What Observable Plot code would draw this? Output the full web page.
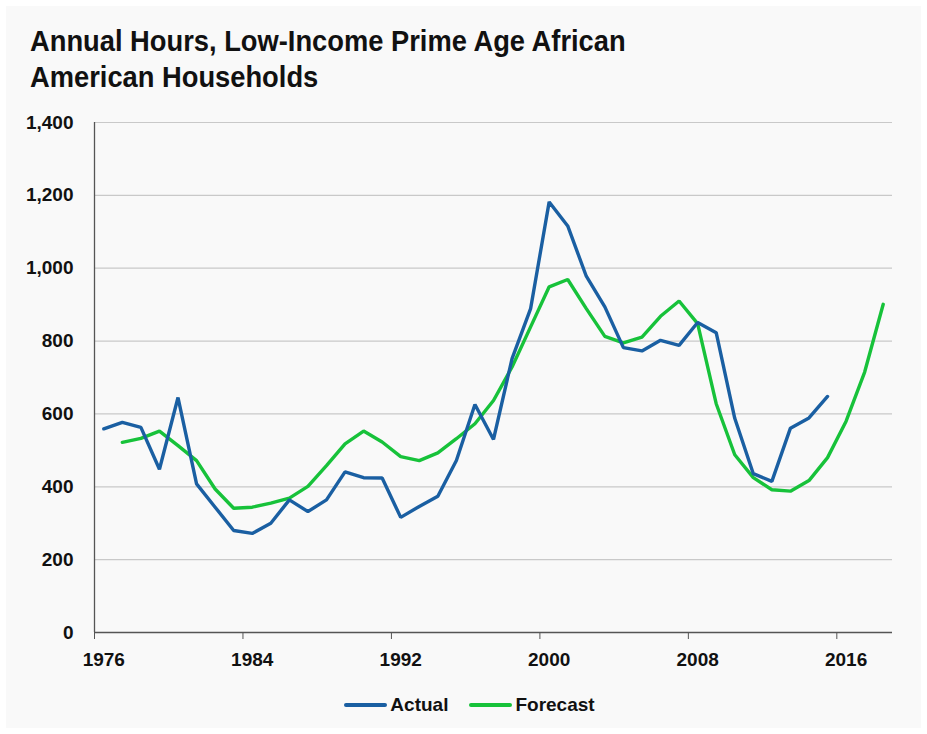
<!DOCTYPE html>
<html>
<head>
<meta charset="utf-8">
<script src="https://cdn.jsdelivr.net/npm/d3@7"></script>
<script src="https://cdn.jsdelivr.net/npm/@observablehq/plot@0.6"></script>
<style>
  html, body { margin: 0; padding: 0; background: #ffffff; }
  #page { position: relative; width: 927px; height: 734px; overflow: hidden; }
  #panel { position: absolute; left: 6px; top: 6px; width: 915px; height: 722px; background: #f9f9f9; }
  #title { position: absolute; left: 30px; top: 23px; font-family: "Liberation Sans", sans-serif; font-weight: bold; font-size: 30px; line-height: 36px; color: #111; transform: scaleX(0.91); transform-origin: left top; white-space: nowrap; }
  #chart { position: absolute; left: 0; top: 100px; }
  #chart svg text { font-size: 19px !important; font-weight: bold; font-family: "Liberation Sans", sans-serif; }
  #legend { position: absolute; left: 6px; width: 927px; top: 694px; display: flex; justify-content: center; align-items: center; font-family: "Liberation Sans", sans-serif; font-weight: bold; font-size: 19px; color: #111; }
  .sw { display: inline-block; width: 43px; height: 4px; border-radius: 2px; margin-right: 3px; }
  .item { display: flex; align-items: center; }
</style>
</head>
<body>
<div id="page">
  <div id="panel"></div>
  <div id="title">Annual Hours, Low-Income Prime Age African<br>American Households</div>
  <div id="chart"></div>
  <div id="legend"></div>
</div>
<script>
const actualYears = [1976,1977,1978,1979,1980,1981,1982,1983,1984,1985,1986,1987,1988,1989,1990,1991,1992,1993,1994,1995,1996,1997,1998,1999,2000,2001,2002,2003,2004,2005,2006,2007,2008,2009,2010,2011,2012,2013,2014,2015];
const actualValues = [559,577,563,448,645,408,344,280,272,300,364,332,364,441,425,424,316,346,374,472,626,530,752,889,1182,1116,978,894,782,773,802,788,851,823,588,436,415,561,589,648];
const forecastYears = [1977,1978,1979,1980,1981,1982,1983,1984,1985,1986,1987,1988,1989,1990,1991,1992,1993,1994,1995,1996,1997,1998,1999,2000,2001,2002,2003,2004,2005,2006,2007,2008,2009,2010,2011,2012,2013,2014,2015,2016,2017,2018];
const forecastValues = [522,533,553,513,472,394,341,344,355,369,401,458,518,553,523,483,472,493,532,573,637,729,839,949,969,889,813,795,811,868,910,848,628,488,425,392,388,417,480,580,715,901];
const xTicks = [1976,1984,1992,2000,2008,2016];
const yTicks = [0,200,400,600,800,1000,1200,1400];
const seriesNames = ["Actual","Forecast"];
const seriesColors = ["#1a5fa2","#17c23a"];

const actual = actualYears.map((y,i) => ({year: y, value: actualValues[i]}));
const forecast = forecastYears.map((y,i) => ({year: y, value: forecastValues[i]}));

const plot = Plot.plot({
  width: 927,
  height: 590,
  marginLeft: 94,
  marginRight: 35,
  marginTop: 22,
  marginBottom: 58,
  style: { background: "transparent", fontFamily: "Liberation Sans, sans-serif", fontSize: "19px", fontWeight: "bold", color: "#111" },
  x: { domain: [1976, 2019], label: null },
  y: { domain: [0, 1400], label: null },
  marks: [
    Plot.ruleY(yTicks.filter(d => d > 0), { stroke: "#c9c9c9", strokeWidth: 1.2 }),
    Plot.ruleX([1976], { stroke: "#555", strokeWidth: 1.3 }),
    Plot.ruleY([0], { stroke: "#555", strokeWidth: 1.3 }),
    Plot.axisX({ ticks: xTicks, tickFormat: () => "", tickSize: 7, stroke: "#555", label: null }),
    Plot.axisX({ ticks: xTicks, tickFormat: d => String(d), tickSize: 0, tickPadding: 20, dx: 9.3, fill: "#111", label: null }),
    Plot.axisY({ ticks: yTicks, tickFormat: d3.format(","), tickSize: 0, tickPadding: 21, fill: "#111", label: null }),
    Plot.line(forecast, { x: d => d.year + 0.5, y: "value", stroke: seriesColors[1], strokeWidth: 3.4, strokeLinejoin: "miter" }),
    Plot.line(actual, { x: d => d.year + 0.5, y: "value", stroke: seriesColors[0], strokeWidth: 3.4, strokeLinejoin: "miter" })
  ]
});
document.getElementById("chart").appendChild(plot);

const legend = document.getElementById("legend");
seriesNames.forEach((name, i) => {
  const item = document.createElement("div");
  item.className = "item";
  if (i > 0) item.style.marginLeft = "21px";
  const sw = document.createElement("span");
  sw.className = "sw";
  sw.style.background = seriesColors[i];
  item.appendChild(sw);
  const t = document.createElement("span");
  t.textContent = name;
  item.appendChild(t);
  legend.appendChild(item);
});
</script>
</body>
</html>
